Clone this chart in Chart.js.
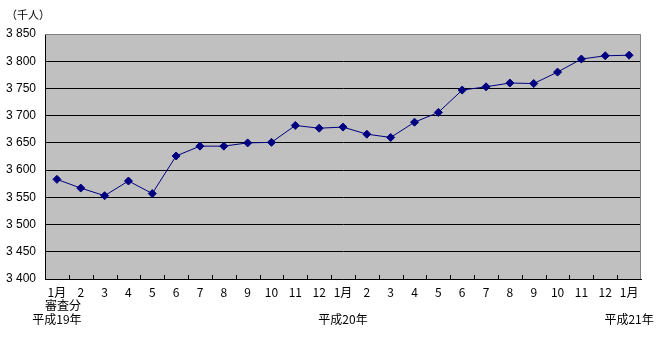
<!DOCTYPE html>
<html>
<head>
<meta charset="utf-8">
<script src="https://cdn.jsdelivr.net/npm/chart.js@4/dist/chart.umd.min.js"></script>
<style>
  html, body { margin: 0; padding: 0; background: #ffffff; }
  #wrap { width: 656px; height: 337px; position: relative; }
</style>
</head>
<body>
<div id="wrap"><canvas id="c" width="656" height="337"></canvas></div>
<script>
// ---- data ----
const months = ['1月','2','3','4','5','6','7','8','9','10','11','12',
                '1月','2','3','4','5','6','7','8','9','10','11','12','1月'];
const noteLabels = ['\u3000審査分','','','','','','','','','','','','','','','','','','','','','','','',''];
const eraLabels = ['平成19年','','','','','','','','','','','','平成20年','','','','','','','','','','','','平成21年'];
const values = [3583, 3567, 3553, 3580, 3557, 3626, 3644, 3644, 3650, 3651, 3682, 3677,
                3679, 3666, 3660, 3688, 3706, 3747, 3753, 3760, 3759, 3780, 3804, 3810, 3811];
const yMin = 3400, yMax = 3850, yStep = 50;
const unitLabel = '（千人）';

const labels = months.map((m, i) => {
  if (eraLabels[i] || noteLabels[i]) return [m, noteLabels[i], eraLabels[i]];
  return m;
});

const plotBg = {
  id: 'plotBg',
  beforeDraw(chart) {
    const {ctx, chartArea: a} = chart;
    ctx.save();
    ctx.fillStyle = '#c0c0c0';
    ctx.fillRect(a.left, a.top, a.right - a.left, a.bottom - a.top);
    ctx.restore();
  },
  afterDraw(chart) {
    const {ctx, chartArea: a} = chart;
    const xs = chart.scales.x;
    ctx.save();
    // gray top / right border
    ctx.strokeStyle = '#808080';
    ctx.lineWidth = 1;
    ctx.beginPath();
    ctx.moveTo(a.left, a.top + 0.5);
    ctx.lineTo(a.right - 0.5, a.top + 0.5);
    ctx.lineTo(a.right - 0.5, a.bottom);
    ctx.stroke();
    // inward ticks on x axis at category boundaries
    ctx.strokeStyle = '#000000';
    ctx.beginPath();
    const n = xs.ticks.length;
    for (let i = 1; i < n; i++) {
      const xp = Math.round((xs.getPixelForTick(i - 1) + xs.getPixelForTick(i)) / 2) + 0.5;
      ctx.moveTo(xp, a.bottom);
      ctx.lineTo(xp, a.bottom - 4);
    }
    ctx.stroke();
    // unit label
    ctx.fillStyle = '#000000';
    ctx.font = '11px "Noto Sans CJK JP"';
    ctx.textBaseline = 'middle';
    ctx.textAlign = 'left';
    ctx.fillText(unitLabel, 6, 15);
    ctx.restore();
  }
};

new Chart(document.getElementById('c'), {
  type: 'line',
  data: {
    labels: labels,
    datasets: [{
      data: values,
      borderColor: '#000080',
      backgroundColor: '#000080',
      borderWidth: 1,
      pointStyle: 'rectRot',
      pointRadius: 4,
      pointBorderWidth: 1,
      pointBackgroundColor: '#000080',
      pointBorderColor: '#000080',
      tension: 0
    }]
  },
  options: {
    responsive: false,
    animation: false,
    devicePixelRatio: 1,
    layout: { padding: { top: 34, right: 15, left: 0, bottom: 0 } },
    plugins: { legend: { display: false }, tooltip: { enabled: false } },
    scales: {
      x: {
        type: 'category',
        offset: true,
        grid: { display: true, drawOnChartArea: false, drawTicks: false },
        border: { display: true, color: '#000000', width: 1 },
        ticks: {
          color: '#000000',
          font: { family: '"Noto Sans CJK JP"', size: 12, lineHeight: 1.1 },
          padding: 7,
          maxRotation: 0,
          autoSkip: false
        },
        afterFit(scale) { scale.height = 58; scale.paddingLeft = 0; scale.paddingRight = 0; }
      },
      y: {
        min: yMin, max: yMax,
        grid: {
          color: ctx => (ctx.tick && ctx.tick.value === yMax) ? 'rgba(0,0,0,0)' : '#000000',
          lineWidth: 1,
          drawTicks: false
        },
        border: { display: true, color: '#000000', width: 1 },
        ticks: {
          stepSize: yStep,
          color: '#000000',
          padding: 9,
          font: { family: '"Liberation Sans"', size: 12 },
          callback: v => {
            const s = String(v);
            return s.length > 3 ? s.slice(0, s.length - 3) + ' ' + s.slice(-3) : s;
          }
        },
        afterFit(scale) { scale.width = 45; scale.paddingTop = 0; scale.paddingBottom = 0; }
      }
    }
  },
  plugins: [plotBg]
});
</script>
</body>
</html>
